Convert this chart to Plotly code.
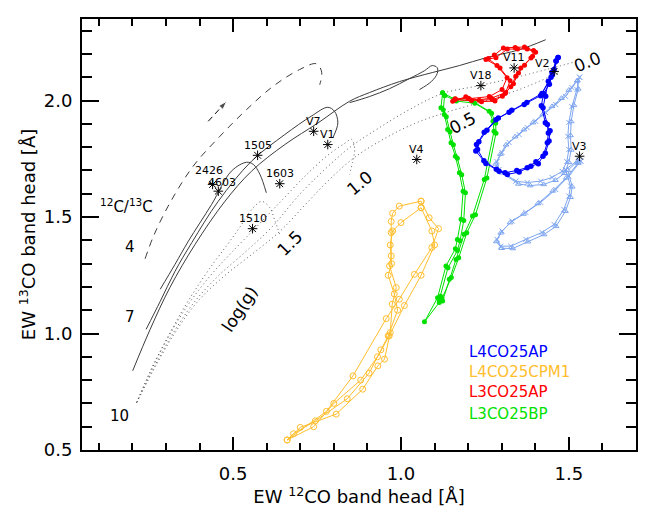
import plotly.graph_objects as go

# --- observed tracks (EW 12CO, EW 13CO) ---
blue_x = [1.468, 1.456, 1.439, 1.431, 1.423, 1.436, 1.439, 1.436, 1.423, 1.409, 1.387, 1.352, 1.317, 1.292, 1.253, 1.223, 1.225, 1.248, 1.283, 1.322, 1.367, 1.416, 1.451, 1.468]
blue_y = [2.185, 2.133, 2.083, 2.018, 1.969, 1.897, 1.861, 1.819, 1.761, 1.729, 1.718, 1.693, 1.683, 1.697, 1.730, 1.783, 1.811, 1.864, 1.918, 1.950, 1.983, 2.021, 2.111, 2.185]
blue_x2 = [1.462, 1.450, 1.442, 1.425, 1.418, 1.430, 1.444, 1.441, 1.430, 1.402, 1.376, 1.345, 1.310, 1.284, 1.247, 1.228, 1.232, 1.256, 1.290, 1.330, 1.375, 1.420, 1.447, 1.462]
blue_y2 = [2.170, 2.121, 2.070, 2.030, 1.978, 1.905, 1.870, 1.826, 1.774, 1.737, 1.712, 1.700, 1.690, 1.705, 1.742, 1.790, 1.823, 1.872, 1.925, 1.958, 1.992, 2.030, 2.100, 2.170]

lblue_x = [1.532, 1.509, 1.490, 1.461, 1.431, 1.401, 1.376, 1.352, 1.322, 1.301, 1.286, 1.292, 1.342, 1.376, 1.416, 1.450, 1.480, 1.494, 1.500, 1.497, 1.500, 1.509, 1.524, 1.532]
lblue_y = [2.100, 2.056, 2.018, 1.983, 1.948, 1.911, 1.884, 1.854, 1.820, 1.777, 1.738, 1.704, 1.654, 1.648, 1.654, 1.670, 1.696, 1.738, 1.790, 1.846, 1.906, 1.974, 2.047, 2.100]
lblue_x2 = [1.525, 1.500, 1.478, 1.450, 1.422, 1.393, 1.366, 1.340, 1.313, 1.296, 1.282, 1.300, 1.350, 1.385, 1.425, 1.460, 1.487, 1.500, 1.507, 1.505, 1.507, 1.515, 1.528, 1.525]
lblue_y2 = [2.085, 2.045, 2.010, 1.975, 1.940, 1.905, 1.875, 1.845, 1.810, 1.770, 1.728, 1.690, 1.642, 1.635, 1.640, 1.658, 1.688, 1.735, 1.788, 1.850, 1.910, 1.980, 2.050, 2.085]
lblue_x3 = [1.535, 1.500, 1.461, 1.416, 1.372, 1.331, 1.301, 1.286, 1.297, 1.327, 1.372, 1.420, 1.456, 1.485, 1.500, 1.505, 1.490, 1.530, 1.535]
lblue_y3 = [1.740, 1.675, 1.618, 1.563, 1.520, 1.483, 1.440, 1.404, 1.375, 1.375, 1.404, 1.434, 1.468, 1.533, 1.590, 1.633, 1.704, 1.747, 1.740]
lblue_x4 = [1.528, 1.492, 1.452, 1.408, 1.365, 1.325, 1.297, 1.284, 1.300, 1.333, 1.378, 1.426, 1.462, 1.490, 1.505, 1.510, 1.497, 1.525, 1.528]
lblue_y4 = [1.732, 1.668, 1.612, 1.558, 1.513, 1.476, 1.432, 1.395, 1.366, 1.365, 1.394, 1.425, 1.460, 1.525, 1.585, 1.630, 1.700, 1.738, 1.732]

red_x = [1.154, 1.193, 1.233, 1.272, 1.302, 1.327, 1.342, 1.357, 1.387, 1.401, 1.376, 1.347, 1.317, 1.283, 1.253, 1.286, 1.316, 1.301, 1.263, 1.203, 1.162]
red_y = [1.997, 2.016, 2.001, 2.004, 2.018, 2.059, 2.104, 2.140, 2.183, 2.207, 2.221, 2.221, 2.221, 2.184, 2.176, 2.150, 2.098, 2.047, 2.017, 2.008, 2.008]
red_x2 = [1.160, 1.200, 1.240, 1.280, 1.310, 1.335, 1.350, 1.368, 1.392, 1.395, 1.368, 1.340, 1.305, 1.278, 1.260, 1.295, 1.325, 1.312, 1.270, 1.210, 1.160]
red_y2 = [2.003, 2.010, 1.995, 1.998, 2.030, 2.072, 2.118, 2.152, 2.190, 2.215, 2.230, 2.228, 2.226, 2.195, 2.180, 2.140, 2.085, 2.035, 2.010, 2.000, 2.003]

green_x = [1.124, 1.119, 1.129, 1.139, 1.149, 1.162, 1.174, 1.185, 1.179, 1.168, 1.162, 1.134, 1.109, 1.070, 1.114, 1.124, 1.144, 1.164, 1.188, 1.213, 1.248, 1.277, 1.274, 1.263, 1.213, 1.159, 1.124]
green_y = [2.033, 1.969, 1.940, 1.876, 1.819, 1.761, 1.690, 1.611, 1.490, 1.404, 1.364, 1.290, 1.154, 1.050, 1.133, 1.140, 1.233, 1.318, 1.426, 1.504, 1.661, 1.868, 1.911, 1.954, 1.997, 2.007, 2.033]
green_x2 = [1.130, 1.126, 1.135, 1.146, 1.156, 1.168, 1.181, 1.192, 1.187, 1.176, 1.168, 1.140, 1.118, 1.114, 1.122, 1.150, 1.172, 1.196, 1.222, 1.256, 1.283, 1.282, 1.270, 1.220, 1.165, 1.130]
green_y2 = [2.022, 1.960, 1.930, 1.866, 1.810, 1.752, 1.682, 1.604, 1.485, 1.398, 1.356, 1.282, 1.160, 1.145, 1.150, 1.240, 1.325, 1.432, 1.510, 1.668, 1.860, 1.903, 1.945, 1.988, 1.998, 2.022]

orange_x = [1.060, 0.995, 0.975, 0.971, 0.971, 0.971, 0.966, 0.986, 0.974, 0.968, 0.951, 0.931, 0.886, 0.807, 0.700, 0.661, 0.778, 0.857, 0.956, 0.995, 1.040, 1.092, 1.112, 1.084, 1.060]
orange_y = [1.568, 1.547, 1.516, 1.481, 1.433, 1.333, 1.290, 1.197, 1.126, 1.004, 0.890, 0.861, 0.761, 0.654, 0.597, 0.543, 0.666, 0.818, 1.064, 1.147, 1.254, 1.369, 1.450, 1.497, 1.568]
orange_x2 = [1.060, 1.000, 0.975, 0.968, 0.972, 0.962, 0.980, 0.990, 0.962, 0.940, 0.905, 0.840, 0.745, 0.680, 0.661, 0.740, 0.800, 0.880, 0.930, 0.965, 1.010, 1.060, 1.100, 1.092, 1.060]
orange_y2 = [1.540, 1.476, 1.440, 1.380, 1.300, 1.250, 1.170, 1.100, 0.990, 0.930, 0.830, 0.720, 0.625, 0.570, 0.543, 0.600, 0.700, 0.800, 0.900, 0.990, 1.120, 1.250, 1.380, 1.440, 1.540]

# --- model curves ---
solid15_x = [0.283, 0.327, 0.367, 0.436, 0.495, 0.540, 0.560, 0.580, 0.599]
solid15_y = [1.190, 1.297, 1.397, 1.554, 1.697, 1.735, 1.726, 1.683, 1.604]
solid10_x = [0.241, 0.283, 0.327, 0.377, 0.456, 0.555, 0.654, 0.733, 0.782, 0.802, 0.812, 0.797]
solid10_y = [1.018, 1.138, 1.267, 1.390, 1.568, 1.740, 1.854, 1.933, 1.971, 1.954, 1.904, 1.840]
solid00_x = [0.201, 0.253, 0.312, 0.387, 0.476, 0.555, 0.654, 0.753, 0.847, 0.906, 0.995, 1.093, 1.174, 1.254, 1.352, 1.431]
solid00_y = [0.840, 1.018, 1.198, 1.383, 1.568, 1.697, 1.811, 1.904, 1.997, 2.034, 2.081, 2.120, 2.150, 2.184, 2.218, 2.261]
solid05_x = [0.847, 0.906, 0.966, 1.025, 1.070, 1.093, 1.108, 1.108, 1.090, 1.055]
solid05_y = [1.991, 2.017, 2.051, 2.094, 2.128, 2.150, 2.141, 2.116, 2.081, 2.047]

dash_x = [0.238, 0.263, 0.312, 0.381, 0.461, 0.540, 0.619, 0.698, 0.748, 0.763, 0.763, 0.758]
dash_y = [1.321, 1.418, 1.561, 1.718, 1.847, 1.961, 2.061, 2.133, 2.158, 2.128, 2.098, 2.068]
arrow_x = [0.426, 0.481]
arrow_y = [1.911, 1.997]

dot15_x = [0.213, 0.253, 0.302, 0.348, 0.392, 0.437, 0.481, 0.520, 0.556, 0.585, 0.609, 0.624, 0.639]
dot15_y = [0.704, 0.838, 0.976, 1.096, 1.198, 1.293, 1.378, 1.456, 1.533, 1.567, 1.541, 1.486, 1.426]
dot10_x = [0.213, 0.262, 0.312, 0.369, 0.431, 0.499, 0.574, 0.648, 0.716, 0.781, 0.832, 0.853, 0.862, 0.856, 0.847]
dot10_y = [0.704, 0.860, 0.997, 1.130, 1.246, 1.353, 1.464, 1.576, 1.678, 1.764, 1.816, 1.833, 1.790, 1.738, 1.683]
dot05_x = [0.213, 0.268, 0.321, 0.384, 0.455, 0.535, 0.615, 0.698, 0.773, 0.847, 0.936, 1.025, 1.123, 1.233, 1.352, 1.521]
dot05_y = [0.704, 0.864, 1.001, 1.134, 1.246, 1.348, 1.456, 1.597, 1.704, 1.798, 1.884, 1.961, 2.030, 2.064, 2.103, 2.167]
dot00_x = [0.213, 0.274, 0.330, 0.395, 0.473, 0.556, 0.639, 0.713, 0.787, 0.862, 0.951, 1.040, 1.123, 1.233, 1.352, 1.471]
dot00_y = [0.704, 0.873, 1.010, 1.138, 1.246, 1.340, 1.438, 1.550, 1.661, 1.756, 1.837, 1.901, 1.944, 1.991, 2.047, 2.120]

# --- stars ---
star_names = ["2426", "4603", "1505", "1603", "1510", "V7", "V1", "V4", "V18", "V11", "V2", "V3"]
star_x = [0.439, 0.456, 0.573, 0.639, 0.558, 0.740, 0.782, 1.047, 1.238, 1.337, 1.456, 1.532]
star_y = [1.640, 1.611, 1.765, 1.643, 1.450, 1.868, 1.811, 1.747, 2.064, 2.140, 2.125, 1.761]

legend_names = ["L4CO25AP", "L4CO25CPM1", "L3CO25AP", "L3CO25BP"]
legend_y = [0.921, 0.833, 0.747, 0.654]

BLUE = "rgb(0,0,255)"
LBLUE = "rgb(125,165,240)"
RED = "rgb(255,0,0)"
GREEN = "rgb(0,225,0)"
ORANGE = "rgb(255,190,45)"
GREY = "rgb(60,60,60)"
FONT = "DejaVu Sans"

fig = go.Figure()

# model grid
for xs, ys in [(solid15_x, solid15_y), (solid10_x, solid10_y), (solid00_x, solid00_y), (solid05_x, solid05_y)]:
    fig.add_scatter(x=xs, y=ys, mode="lines", line=dict(color=GREY, width=1, shape="spline"))
for xs, ys in [(dot15_x, dot15_y), (dot10_x, dot10_y), (dot05_x, dot05_y), (dot00_x, dot00_y)]:
    fig.add_scatter(x=xs, y=ys, mode="lines", line=dict(color="rgb(90,90,90)", width=1, dash="1px,3px", shape="spline"))
fig.add_scatter(x=dash_x, y=dash_y, mode="lines", line=dict(color=GREY, width=1, dash="7px,6px", shape="spline"))
fig.add_scatter(x=arrow_x, y=arrow_y, mode="lines+markers", line=dict(color="black", width=1, dash="6px,4px"),
                marker=dict(symbol="arrow", size=[0, 9], angleref="previous", color="black"))

# tracks
for xs, ys in [(orange_x, orange_y), (orange_x2, orange_y2)]:
    fig.add_scatter(x=xs, y=ys, mode="lines+markers", line=dict(color=ORANGE, width=1),
                    marker=dict(symbol="circle-open", size=6, color=ORANGE, line=dict(width=1)))
for xs, ys, sym in [(lblue_x, lblue_y, "x-thin-open"), (lblue_x2, lblue_y2, "triangle-up-open"),
                    (lblue_x3, lblue_y3, "x-thin-open"), (lblue_x4, lblue_y4, "triangle-up-open")]:
    fig.add_scatter(x=xs, y=ys, mode="lines+markers", line=dict(color=LBLUE, width=1),
                    marker=dict(symbol=sym, size=5, color=LBLUE, line=dict(width=1, color=LBLUE)))
for xs, ys in [(green_x, green_y), (green_x2, green_y2)]:
    fig.add_scatter(x=xs, y=ys, mode="lines+markers", line=dict(color=GREEN, width=1),
                    marker=dict(size=5, color=GREEN))
for xs, ys in [(blue_x, blue_y), (blue_x2, blue_y2)]:
    fig.add_scatter(x=xs, y=ys, mode="lines+markers", line=dict(color=BLUE, width=1),
                    marker=dict(size=5.5, color=BLUE))
for xs, ys in [(red_x, red_y), (red_x2, red_y2)]:
    fig.add_scatter(x=xs, y=ys, mode="lines+markers", line=dict(color=RED, width=1),
                    marker=dict(size=5, color=RED))

# stars
fig.add_scatter(x=star_x, y=star_y, mode="markers",
                marker=dict(symbol="asterisk-open", size=8, color="black", line=dict(width=1, color="black")))
for name, sx, sy in zip(star_names, star_x, star_y):
    xs = {"V2": -12, "4603": 4, "2426": -4}.get(name, 0)
    ys = {"V2": 8, "2426": 14, "4603": 9}.get(name, 10)
    fig.add_annotation(x=sx, y=sy, text=name, showarrow=False, xshift=xs, yshift=ys,
                       font=dict(family=FONT, size=11, color="black"))

# labels
fig.add_annotation(x=0.184, y=1.547, text="<sup>12</sup>C/<sup>13</sup>C", showarrow=False,
                   font=dict(family=FONT, size=15, color="black"))
for txt, lx, ly in [("4", 0.193, 1.373), ("7", 0.193, 1.073), ("10", 0.161, 0.645)]:
    fig.add_annotation(x=lx, y=ly, text=txt, showarrow=False, font=dict(family=FONT, size=15, color="black"))
for txt, lx, ly, ang in [("log(g)", 0.520, 1.104, -57), ("1.5", 0.669, 1.390, -45), ("1.0", 0.877, 1.647, -40),
                         ("0.5", 1.183, 1.904, -28), ("0.0", 1.555, 2.164, -22)]:
    fig.add_annotation(x=lx, y=ly, text=txt, showarrow=False, textangle=ang,
                       font=dict(family=FONT, size=17, color="black"))

for name, ly, col in zip(legend_names, legend_y, [BLUE, ORANGE, RED, GREEN]):
    fig.add_annotation(x=1.198, y=ly, text=name, showarrow=False, xanchor="left",
                       font=dict(family=FONT, size=15, color=col))

axis_common = dict(showline=True, linecolor="black", linewidth=2, mirror="ticks", ticks="inside",
                   tickcolor="black", tickwidth=1.5, showgrid=False, zeroline=False, automargin=False,
                   tickfont=dict(family=FONT, size=18, color="black"), tickformat=".1f")

fig.update_xaxes(range=[0.05, 1.70], tick0=0, dtick=0.5, ticklen=13, ticklabelstandoff=6,
                 minor=dict(dtick=0.1, ticklen=7, ticks="inside", tickcolor="black", tickwidth=1.5),
                 title=dict(text="EW <sup>12</sup>CO band head [Å]", font=dict(family=FONT, size=18, color="black"), standoff=4),
                 **axis_common)
fig.update_yaxes(range=[0.5, 2.35], tick0=0, dtick=0.5, ticklen=17, ticklabelstandoff=4,
                 minor=dict(dtick=0.1, ticklen=10, ticks="inside", tickcolor="black", tickwidth=1.5),
                 title=dict(text="EW <sup>13</sup>CO band head [Å]", font=dict(family=FONT, size=18, color="black"), standoff=3),
                 **axis_common)

# page body has an 8px margin, so the figure is drawn 8px smaller and the margins shifted
fig.update_layout(width=646, height=510, showlegend=False, template="simple_white",
                  plot_bgcolor="white", paper_bgcolor="white",
                  margin=dict(l=74, r=18, t=11, b=68, autoexpand=False))

fig.write_html("out.html")
